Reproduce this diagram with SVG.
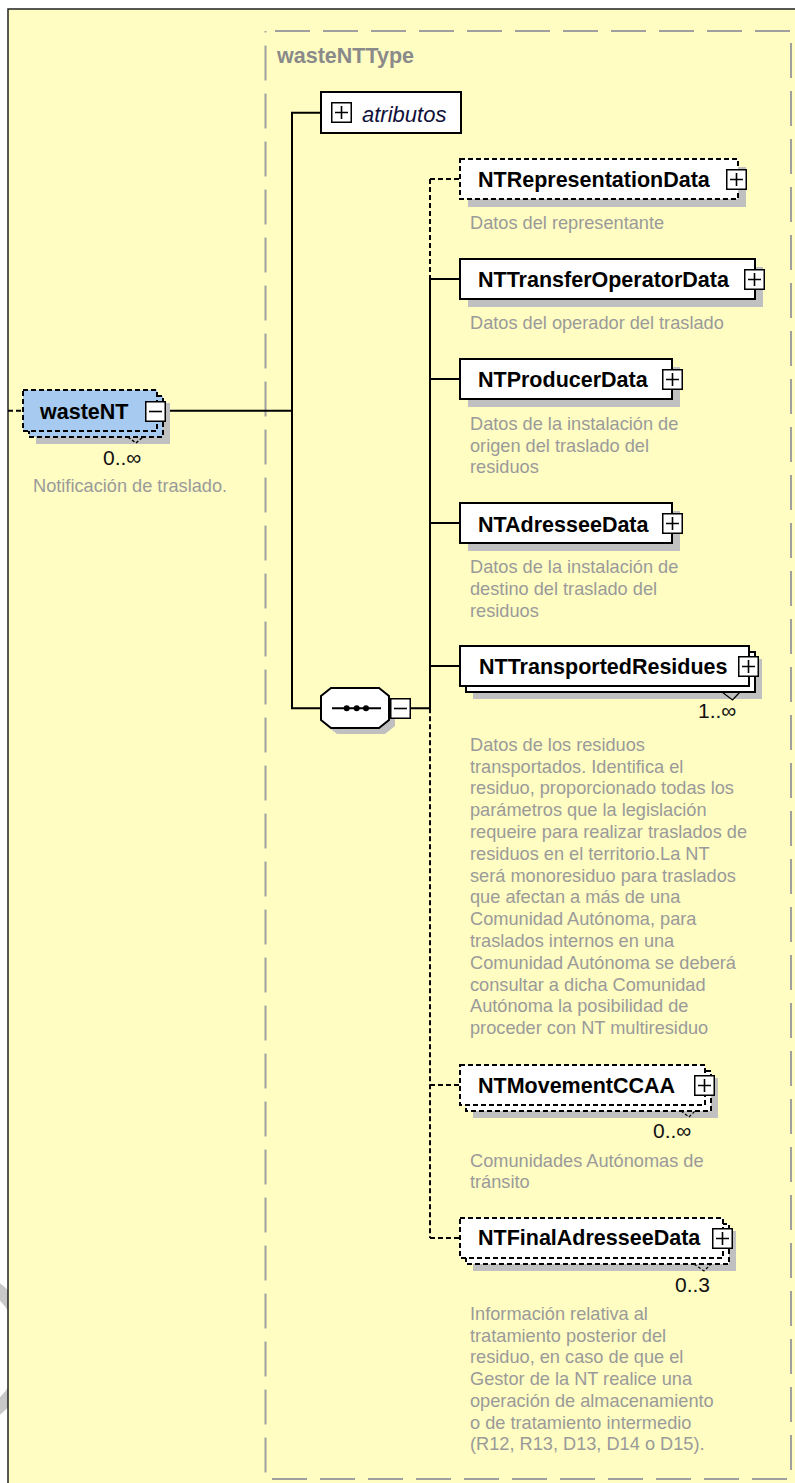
<svg xmlns="http://www.w3.org/2000/svg" width="795" height="1483" viewBox="0 0 795 1483">
<style>
.bx{fill:#fff;stroke:#000;stroke-width:2}
.dbx{fill:#fff;stroke:#000;stroke-width:2;stroke-dasharray:5 3}
.sh{fill:#c0c0c0}
.ln{stroke:#000;stroke-width:2;fill:none}
.dln{stroke:#000;stroke-width:2;fill:none;stroke-dasharray:5 3}
.nm{font-family:"Liberation Sans",Arial,sans-serif;font-weight:bold;font-size:21.5px;fill:#000}
.ds{font-family:"Liberation Sans",Arial,sans-serif;font-size:18.2px;fill:#9a9a9a}
.mu{font-family:"Liberation Sans",Arial,sans-serif;font-size:21px;fill:#111}
.ic{fill:#fff;stroke:#000;stroke-width:1.5}
.icl{stroke:#000;stroke-width:1.6}
</style>
<defs>
<g id="plus"><rect class="ic" x="0.75" y="0.75" width="19.5" height="19.5"/><path class="icl" d="M4,10.5H17M10.5,4V17"/></g>
<g id="minus"><rect class="ic" x="0.75" y="0.75" width="19.5" height="19.5"/><path class="icl" d="M4,10.5H17"/></g>
</defs>
<rect x="0" y="0" width="795" height="1483" fill="#fff"/>
<circle cx="-50" cy="1349" r="76" fill="none" stroke="#c8c8c8" stroke-width="13"/>
<rect x="8" y="9" width="787" height="1474" fill="#fffdc2"/>
<path d="M8,1483V9H795" fill="none" stroke="#222" stroke-width="1.5"/>

<g id="wasteNTType">
<rect x="265.5" y="31" width="525.5" height="1448" fill="none" stroke="#a0a0a0" stroke-width="2" stroke-dasharray="35 13" stroke-dashoffset="38.5"/>
<text x="277" y="63" style="font-family:'Liberation Sans',Arial,sans-serif;font-weight:bold;font-size:21.5px;fill:#8a8a8a">wasteNTType</text>
</g>

<g id="connectors">
<path class="dln" d="M8,410.7H23"/>
<path class="ln" d="M166,410.7H292M292,112.7V708.3M291,112.7H321M291,708.3H321M410,708.3H430M430,279V709.3"/>
<path class="ln" d="M430,279H460M430,379H460M430,523H460M430,666H460"/>
<path class="dln" d="M430,179H460M430,179V279M430,708.3V1238M430,1085H460M430,1238H460"/>
</g>

<g id="wasteNT">
<rect class="sh" x="36" y="403" width="134" height="41"/>
<rect x="29" y="396" width="134" height="41" fill="#a6caf0" stroke="#000" stroke-width="2" stroke-dasharray="5 3"/>
<rect x="23" y="390" width="134" height="41" fill="#a6caf0" stroke="#000" stroke-width="2" stroke-dasharray="5 3"/>
<use href="#minus" x="145" y="401"/>
<text class="nm" x="40" y="419">wasteNT</text>
<path d="M128,437L136,443L143,437" fill="none" stroke="#000" stroke-width="1.5" stroke-dasharray="3 2"/>
<text class="mu" x="103" y="465">0..∞</text>
<text class="ds" x="33" y="491.7">Notificación de traslado.</text>
</g>

<g id="atributos">
<rect class="bx" x="321" y="92" width="140" height="41"/>
<use href="#plus" x="331" y="102"/>
<text x="362" y="122" style="font-family:'Liberation Sans',Arial,sans-serif;font-style:italic;font-size:22px;fill:#10103a">atributos</text>
</g>

<g id="sequence">
<polygon class="sh" points="337,694 385,694 395,702 395,726 385,734 337,734 327,726 327,702"/>
<polygon class="bx" points="331,688 379,688 389,696 389,720 379,728 331,728 321,720 321,696"/>
<path class="ln" d="M332,708.3H381"/>
<circle cx="346.7" cy="708.3" r="3"/><circle cx="356.7" cy="708.3" r="3"/><circle cx="366" cy="708.3" r="3"/>
<use href="#minus" x="390" y="698"/>
</g>

<g id="NTRepresentationData">
<rect class="sh" x="468" y="167" width="278" height="40"/>
<rect class="dbx" x="460" y="159" width="278" height="40"/>
<use href="#plus" x="726" y="169"/>
<text class="nm" x="478" y="187">NTRepresentationData</text>
<text class="ds" x="470" y="229.3">Datos del representante</text>
</g>

<g id="NTTransferOperatorData">
<rect class="sh" x="468" y="267" width="295" height="40"/>
<rect class="bx" x="460" y="259" width="295" height="40"/>
<use href="#plus" x="744" y="269"/>
<text class="nm" x="478" y="287">NTTransferOperatorData</text>
<text class="ds" x="470" y="328.5">Datos del operador del traslado</text>
</g>

<g id="NTProducerData">
<rect class="sh" x="468" y="367" width="212" height="40"/>
<rect class="bx" x="460" y="359" width="212" height="40"/>
<use href="#plus" x="662" y="369"/>
<text class="nm" x="478" y="387">NTProducerData</text>
<text class="ds" x="470" y="430"><tspan x="470">Datos de la instalación de</tspan><tspan x="470" dy="21.7">origen del traslado del</tspan><tspan x="470" dy="21.7">residuos</tspan></text>
</g>

<g id="NTAdresseeData">
<rect class="sh" x="468" y="511" width="212" height="40"/>
<rect class="bx" x="460" y="503" width="212" height="40"/>
<use href="#plus" x="662" y="513"/>
<text class="nm" x="478" y="531.5">NTAdresseeData</text>
<text class="ds" x="470" y="573.3"><tspan x="470">Datos de la instalación de</tspan><tspan x="470" dy="21.7">destino del traslado del</tspan><tspan x="470" dy="21.7">residuos</tspan></text>
</g>

<g id="NTTransportedResidues">
<rect class="sh" x="473" y="659" width="289" height="40"/>
<rect class="bx" x="466" y="652" width="289" height="40"/>
<rect class="bx" x="460" y="646" width="289" height="40"/>
<use href="#plus" x="738" y="656"/>
<text class="nm" x="479" y="673.5">NTTransportedResidues</text>
<path d="M722,692L732.5,700L740,692" fill="none" stroke="#000" stroke-width="1.2"/>
<text class="mu" x="698" y="718.3">1..∞</text>
<text class="ds" x="470" y="750.7"><tspan x="470">Datos de los residuos</tspan><tspan x="470" dy="21.8">transportados. Identifica el</tspan><tspan x="470" dy="21.8">residuo, proporcionado todas los</tspan><tspan x="470" dy="21.8">parámetros que la legislación</tspan><tspan x="470" dy="21.8">requeire para realizar traslados de</tspan><tspan x="470" dy="21.8">residuos en el territorio.La NT</tspan><tspan x="470" dy="21.8">será monoresiduo para traslados</tspan><tspan x="470" dy="21.8">que afectan a más de una</tspan><tspan x="470" dy="21.8">Comunidad Autónoma, para</tspan><tspan x="470" dy="21.8">traslados internos en una</tspan><tspan x="470" dy="21.8">Comunidad Autónoma se deberá</tspan><tspan x="470" dy="21.8">consultar a dicha Comunidad</tspan><tspan x="470" dy="21.8">Autónoma la posibilidad de</tspan><tspan x="470" dy="21.8">proceder con NT multiresiduo</tspan></text>
</g>

<g id="NTMovementCCAA">
<rect class="sh" x="473" y="1078" width="245" height="40"/>
<rect class="dbx" x="466" y="1071" width="245" height="40"/>
<rect class="dbx" x="460" y="1065" width="245" height="40"/>
<use href="#plus" x="694" y="1075"/>
<text class="nm" x="478" y="1093">NTMovementCCAA</text>
<path d="M681,1111L689,1117L695,1111" fill="none" stroke="#000" stroke-width="1.2" stroke-dasharray="3 2"/>
<text class="mu" x="653" y="1138.3">0..∞</text>
<text class="ds" x="470" y="1166.7"><tspan x="470">Comunidades Autónomas de</tspan><tspan x="470" dy="21.7">tránsito</tspan></text>
</g>

<g id="NTFinalAdresseeData">
<rect class="sh" x="473" y="1231" width="263" height="40"/>
<rect class="dbx" x="466" y="1224" width="263" height="40"/>
<rect class="dbx" x="460" y="1218" width="263" height="40"/>
<use href="#plus" x="712" y="1228"/>
<text class="nm" x="478" y="1245">NTFinalAdresseeData</text>
<path d="M694,1264L704,1271L711,1264" fill="none" stroke="#000" stroke-width="1.2" stroke-dasharray="3 2"/>
<text class="mu" x="675" y="1291.7">0..3</text>
<text class="ds" x="470" y="1320"><tspan x="470">Información relativa al</tspan><tspan x="470" dy="21.7">tratamiento posterior del</tspan><tspan x="470" dy="21.7">residuo, en caso de que el</tspan><tspan x="470" dy="21.7">Gestor de la NT realice una</tspan><tspan x="470" dy="21.7">operación de almacenamiento</tspan><tspan x="470" dy="21.7">o de tratamiento intermedio</tspan><tspan x="470" dy="21.7">(R12, R13, D13, D14 o D15).</tspan></text>
</g>
</svg>
